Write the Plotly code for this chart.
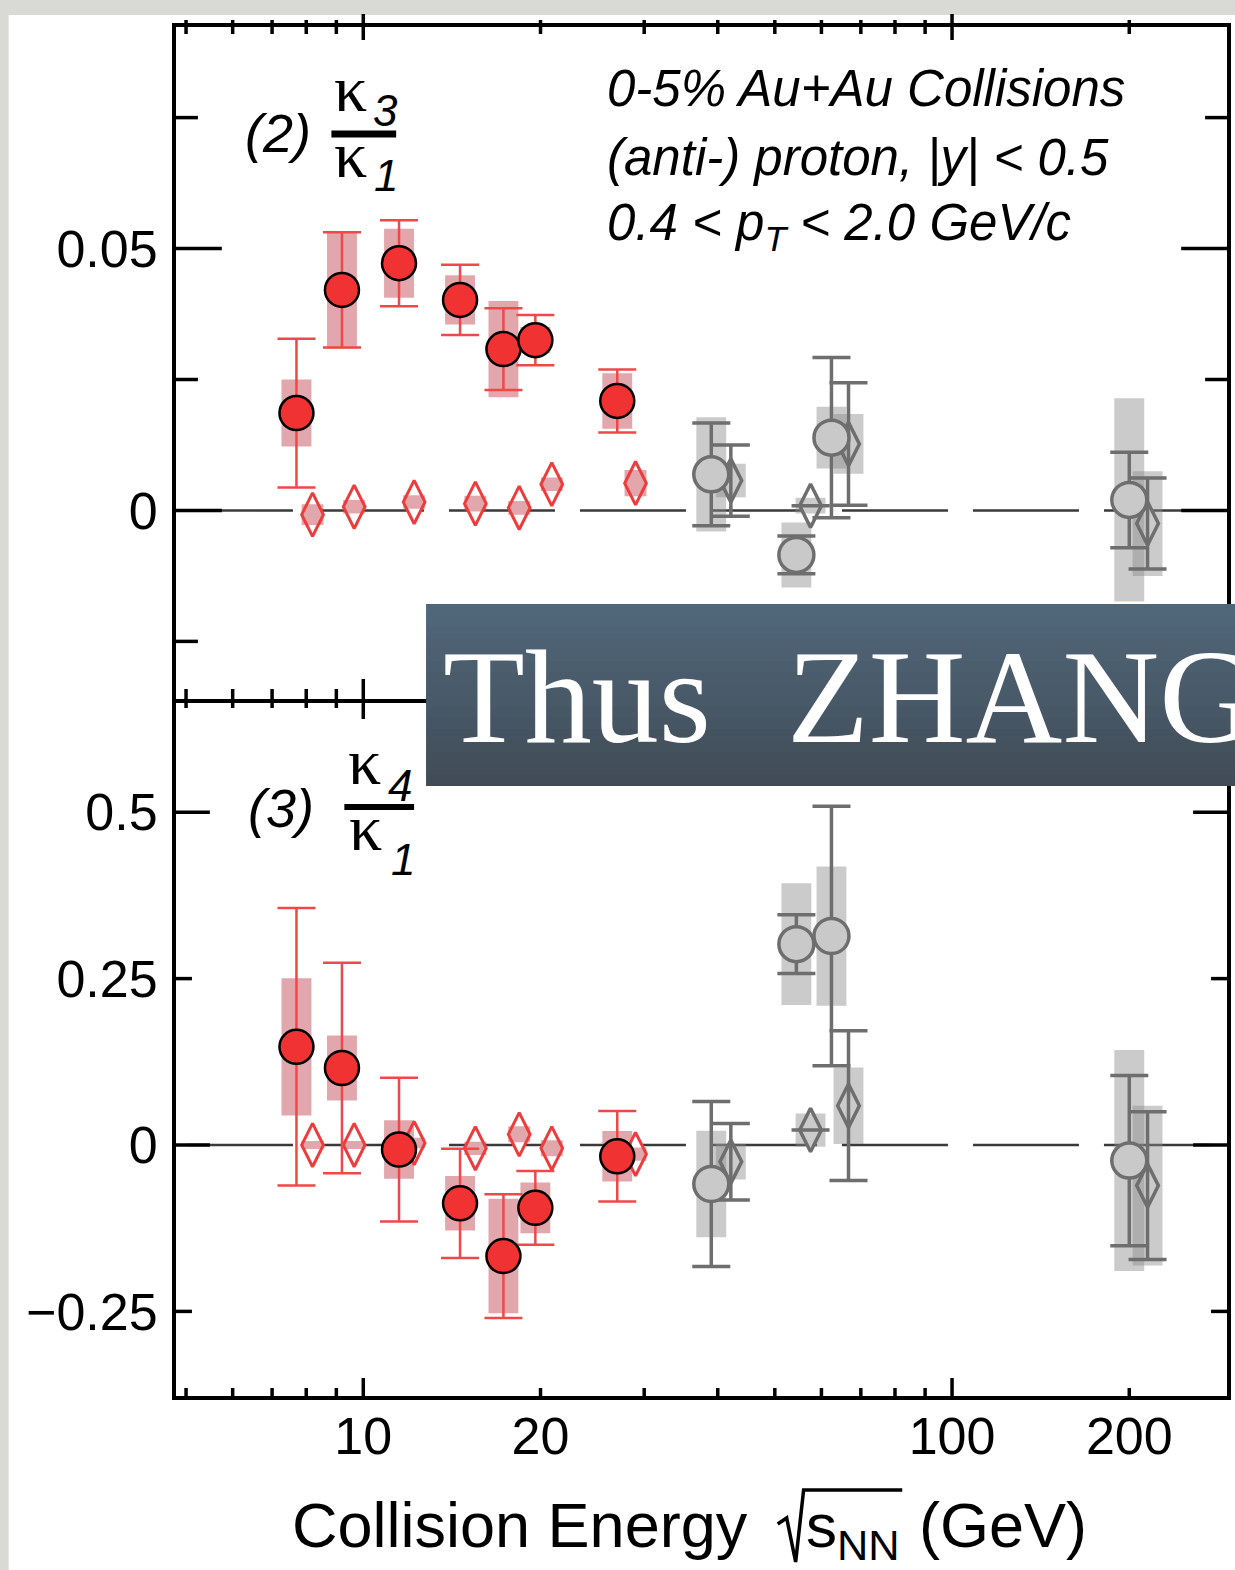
import numpy as np
import plotly.graph_objects as go

# ---------------- data ----------------
E_red = [7.7, 9.2, 11.5, 14.6, 17.3, 19.6, 27.0]          # red filled circles
E_red_d = [8.2, 9.65, 12.2, 15.5, 18.4, 20.9, 29.0]       # red open diamonds
E_gray = [39.0, 54.4, 62.4, 200.0]                        # grey circles
E_gray_d = [42.1, 57.5, 66.7, 214.8]                      # grey diamonds

# panel (2): kappa3/kappa1
k31_red = [0.0186, 0.0421, 0.0472, 0.0402, 0.0308, 0.0325, 0.0209]
k31_red_stat = [0.0142, 0.0110, 0.0082, 0.0067, 0.0078, 0.0048, 0.0060]
k31_red_sys = [0.0064, 0.0112, 0.0066, 0.0047, 0.0092, 0.0025, 0.0053]
k31_red_d = [-0.0008, 0.0007, 0.0016, 0.0013, 0.0005, 0.0050, 0.0052]
k31_red_d_sys = [0.0020, 0.0013, 0.0013, 0.0015, 0.0013, 0.0013, 0.0025]
k31_gray = [0.0069, -0.0085, 0.0139, 0.0020]
k31_gray_stat = [0.0098, 0.0036, 0.0153, 0.0091]
k31_gray_sys = [0.0109, 0.0062, 0.0059, 0.0194]
k31_gray_d = [0.0057, 0.0009, 0.0127, -0.0025]
k31_gray_d_stat = [0.0068, None, 0.0117, 0.0087]
k31_gray_d_sys = [0.0032, 0.0015, 0.0057, 0.0100]

# panel (3): kappa4/kappa1
k41_red = [0.1475, 0.1157, -0.0068, -0.0876, -0.1668, -0.0944, -0.0170]
k41_red_stat = [0.2085, 0.158, 0.108, 0.082, 0.093, 0.0555, 0.068]
k41_red_sys = [0.103, 0.049, 0.044, 0.041, 0.086, 0.038, 0.038]
k41_red_d = [0.0, 0.0, 0.003, -0.005, 0.016, -0.005, -0.0136]
k41_red_d_sys = [0.006, 0.006, 0.008, 0.010, 0.012, 0.012, 0.010]
k41_gray = [-0.0586, 0.3017, 0.314, -0.0234]
k41_gray_stat = [0.124, 0.0442, 0.195, 0.128]
k41_gray_sys = [0.080, 0.0915, 0.1046, 0.166]
k41_gray_d = [-0.025, 0.0225, 0.059, -0.061]
k41_gray_d_stat = [0.0575, None, 0.1125, 0.111]
k41_gray_d_sys = [0.027, 0.025, 0.0575, 0.120]

# axis ticks
x_tick_vals = [10, 20, 100, 200]
x_tick_text = ["10", "20", "100", "200"]
x_major = [10, 100]
x_minor = [5, 6, 7, 8, 9, 20, 30, 40, 50, 60, 70, 80, 90, 200]
y1_tick_vals = [0, 0.05]
y1_tick_text = ["0", "0.05"]
y1_major = [0, 0.05]
y1_minor = [-0.025, 0.025, 0.075]
y2_tick_vals = [-0.25, 0, 0.25, 0.5]
y2_tick_text = ["\u22120.25", "0", "0.25", "0.5"]
y2_major = [0, 0.5]
y2_minor = [-0.25, 0.25]

# ---------------- geometry / style ----------------
FIG_W, FIG_H = 1235, 1570
L, R, T, B, MID = 176, 1231, 27, 1396, 699
W, H = R - L, B - T
XLOG = [0.6819, 2.467]
Y1R = [-0.0360, 0.0923]
Y2R = [-0.3771, 0.6701]
DOM_SPLIT = (B - MID) / H
FONT = "Liberation Sans"
SERIF = "Liberation Serif"

RED = "#f03232"
RED_LINE = "#ee3c3c"
PINK = "rgba(190,60,70,0.45)"
GRAY_LINE = "#6e6e6e"
GRAY_FILL = "#c9c9c9"
GRAY_BOX = "rgba(140,140,140,0.45)"
BG_GRAY = "#d9d9d5"
HW = 10 ** (15 / 591)    # half-width of systematic boxes (log factor)
HW_D = 10 ** (11 / 591)  # narrower boxes behind red diamonds


def xp(px):
    return (px - L) / W


def yp(py):
    return (B - py) / H


def xfrac(v):
    return (np.log10(v) - XLOG[0]) / (XLOG[1] - XLOG[0])


fig = go.Figure()


def box_trace(xs, ys, es, color, xa, ya, hw=HW):
    bx, by = [], []
    for x, y, e in zip(xs, ys, es):
        if not e:
            continue
        bx += [x / hw, x * hw, x * hw, x / hw, x / hw, None]
        by += [y - e, y - e, y + e, y + e, y - e, None]
    return go.Scatter(x=bx, y=by, mode="lines", fill="toself", fillcolor=color,
                      line=dict(width=0), hoverinfo="skip", showlegend=False,
                      xaxis=xa, yaxis=ya)


def pts(xs, ys, errs, symbol, size, color, lcol, lw, ecol, eth, xa, ya):
    kw = {}
    if errs is not None:
        kw["error_y"] = dict(type="data", array=errs, visible=True, color=ecol,
                             thickness=eth, width=19)
    return go.Scatter(x=xs, y=ys, mode="markers",
                      marker=dict(symbol=symbol, size=size, color=color,
                                  line=dict(color=lcol, width=lw)),
                      showlegend=False, hoverinfo="skip", xaxis=xa, yaxis=ya, **kw)


panels = [
    ("x", "y", k31_red, k31_red_stat, k31_red_sys, k31_red_d, k31_red_d_sys,
     k31_gray, k31_gray_stat, k31_gray_sys, k31_gray_d, k31_gray_d_stat, k31_gray_d_sys),
    ("x2", "y2", k41_red, k41_red_stat, k41_red_sys, k41_red_d, k41_red_d_sys,
     k41_gray, k41_gray_stat, k41_gray_sys, k41_gray_d, k41_gray_d_stat, k41_gray_d_sys),
]

for (xa, ya, r, rs, rsy, rd, rdsy, g, gs, gsy, gd, gds, gdsy) in panels:
    # white underlay of the diamonds
    fig.add_trace(pts(E_red_d, rd, None, "diamond-tall", 31, "white", "white", 0, None, 0, xa, ya))
    fig.add_trace(pts(E_gray_d, gd, None, "diamond-tall", 31, "white", "white", 0, None, 0, xa, ya))
    # systematic boxes
    fig.add_trace(box_trace(E_red, r, rsy, PINK, xa, ya))
    fig.add_trace(box_trace(E_red_d, rd, rdsy, PINK, xa, ya, HW_D))
    fig.add_trace(box_trace(E_gray, g, gsy, GRAY_BOX, xa, ya))
    fig.add_trace(box_trace(E_gray_d, gd, gdsy, GRAY_BOX, xa, ya))
    # points with statistical errors
    fig.add_trace(pts(E_red_d, rd, None, "diamond-tall-open", 31, RED_LINE, RED_LINE, 3, None, 0, xa, ya))
    fig.add_trace(pts(E_gray_d, gd, gds, "diamond-tall-open", 31, GRAY_LINE, GRAY_LINE, 3.5, GRAY_LINE, 3.5, xa, ya))
    fig.add_trace(pts(E_gray, g, gs, "circle", 35, GRAY_FILL, GRAY_LINE, 3.5, GRAY_LINE, 3.5, xa, ya))
    fig.add_trace(pts(E_red, r, rs, "circle", 34, RED, "black", 2.5, "#f04848", 2.5, xa, ya))

# ---------------- shapes ----------------
shapes = []
# grey textured page border (left and top strips)
shapes.append(dict(type="rect", xref="paper", yref="paper", x0=xp(-20), x1=xp(8),
                   y0=yp(1600), y1=yp(-20), fillcolor=BG_GRAY, line_width=0, layer="below"))
shapes.append(dict(type="rect", xref="paper", yref="paper", x0=xp(-20), x1=xp(1260),
                   y0=yp(15), y1=yp(-20), fillcolor=BG_GRAY, line_width=0, layer="below"))
for yref in ["y", "y2"]:
    shapes.append(dict(type="line", xref="paper", yref=yref, x0=xp(187), x1=1, y0=0, y1=0,
                       line=dict(color="#3a3a3a", width=2.5, dash="106px,25px"), layer="below"))

TK = dict(color="black", width=3.5)


def vline(f, ya, yb):
    shapes.append(dict(type="line", xref="paper", yref="paper", x0=f, x1=f,
                       y0=yp(ya), y1=yp(yb), line=TK, layer="above"))


for v in x_major + x_minor:
    f = xfrac(v)
    big = v in x_major
    vline(f, 14 if big else 20, 40 if big else 34)             # top edge
    vline(f, 679 if big else 689, 719 if big else 708)         # panel boundary
    vline(f, 1378 if big else 1388, B)                         # bottom edge


def hticks(yref, major, minor, lmaj, lmin):
    for v in major + minor:
        ln = (lmaj if v in major else lmin) / W
        for x0, x1 in [(0, ln), (1 - ln, 1)]:
            shapes.append(dict(type="line", xref="paper", yref=yref, x0=x0, x1=x1,
                               y0=v, y1=v, line=TK, layer="above"))


hticks("y", y1_major, y1_minor, 46, 22)
hticks("y2", y2_major, y2_minor, 34, 16)

# fraction bars
shapes.append(dict(type="line", xref="paper", yref="paper", x0=xp(332), x1=xp(397),
                   y0=yp(134), y1=yp(134), line=dict(color="black", width=7), layer="above"))
shapes.append(dict(type="line", xref="paper", yref="paper", x0=xp(345), x1=xp(415),
                   y0=yp(807), y1=yp(807), line=dict(color="black", width=6), layer="above"))
# square-root sign with overline in the axis title
rad = [(780, 1524), (789, 1518), (798, 1562), (806, 1490), (905, 1490)]
path = "M " + " L ".join("%.5f,%.5f" % (xp(a), yp(b)) for a, b in rad)
shapes.append(dict(type="path", xref="paper", yref="paper", path=path,
                   line=dict(color="black", width=3.5), layer="above"))

# banner
top_c = np.array([81, 104, 124])
bot_c = np.array([65, 76, 86])
n = 16
y_top, y_bot = 604, 786
for i in range(n):
    t = (i + 0.5) / n
    c = top_c + (bot_c - top_c) * t
    ya = y_top + (y_bot - y_top) * i / n
    yb = y_top + (y_bot - y_top) * (i + 1) / n + 0.8
    shapes.append(dict(type="rect", xref="paper", yref="paper", x0=xp(427), x1=xp(1260),
                       y0=yp(min(yb, y_bot)), y1=yp(ya),
                       fillcolor="rgb(%d,%d,%d)" % tuple(c.astype(int)), line_width=0, layer="above"))

# ---------------- annotations ----------------
anns = []


def ann(text, x, y, size, xanchor="center", family=FONT, color="black"):
    anns.append(dict(text=text, x=xp(x), y=yp(y), xref="paper", yref="paper", showarrow=False,
                     xanchor=xanchor, yanchor="middle",
                     font=dict(size=size, family=family, color=color)))


ann("<i>(2)</i>", 278, 133, 54)
ann("\u03ba", 351, 88, 66, family=SERIF)
ann("<i>3</i>", 386, 110, 44)
ann("\u03ba", 351, 155, 66, family=SERIF)
ann("<i>1</i>", 387, 176, 44)

ann("<i>(3)</i>", 281, 808, 54)
ann("\u03ba", 365, 761, 66, family=SERIF)
ann("<i>4</i>", 401, 785, 44)
ann("\u03ba", 366, 827, 66, family=SERIF)
ann("<i>1</i>", 404, 859, 44)

ann("<i>0-5% Au+Au Collisions</i>", 607, 89, 51, xanchor="left")
ann("<i>(anti-) proton, |y| < 0.5</i>", 607, 157, 51, xanchor="left")
ann("<i>0.4 < p<sub>T</sub> < 2.0 GeV/c</i>", 607, 226, 51, xanchor="left")

ann("Collision Energy", 752, 1525, 63, xanchor="right")
ann("s<sub>NN</sub>", 806, 1530, 62, xanchor="left")
ann("(GeV)", 920, 1525, 63, xanchor="left")

ann("Thus", 442, 697, 134, xanchor="left", family=SERIF, color="white")
ann("ZHANG", 787, 697, 134, xanchor="left", family=SERIF, color="white")

# ---------------- layout ----------------
common_x = dict(type="log", range=XLOG, showgrid=False, zeroline=False, ticks="",
                showline=True, linecolor="black", linewidth=4)
fig.update_layout(
    width=FIG_W, height=FIG_H,
    margin=dict(l=L, r=FIG_W - R, t=T, b=FIG_H - B, pad=0),
    paper_bgcolor="white", plot_bgcolor="white",
    showlegend=False,
    xaxis=dict(**common_x, anchor="y", mirror=True, showticklabels=False),
    xaxis2=dict(**common_x, anchor="y2", mirror=False, tickvals=x_tick_vals, ticktext=x_tick_text,
                tickfont=dict(family=FONT, size=52, color="black"), ticklabelstandoff=-8),
    yaxis=dict(domain=[DOM_SPLIT, 1], range=Y1R, showgrid=False, zeroline=False, ticks="",
               showline=True, mirror=True, linecolor="black", linewidth=4,
               tickvals=y1_tick_vals, ticktext=y1_tick_text, anchor="x",
               tickfont=dict(family=FONT, size=52, color="black"), ticklabelstandoff=4),
    yaxis2=dict(domain=[0, DOM_SPLIT], range=Y2R, showgrid=False, zeroline=False, ticks="",
                showline=True, mirror=True, linecolor="black", linewidth=4,
                tickvals=y2_tick_vals, ticktext=y2_tick_text, anchor="x2",
                tickfont=dict(family=FONT, size=52, color="black"), ticklabelstandoff=4),
    shapes=shapes, annotations=anns,
)

fig.write_html("out.html")
